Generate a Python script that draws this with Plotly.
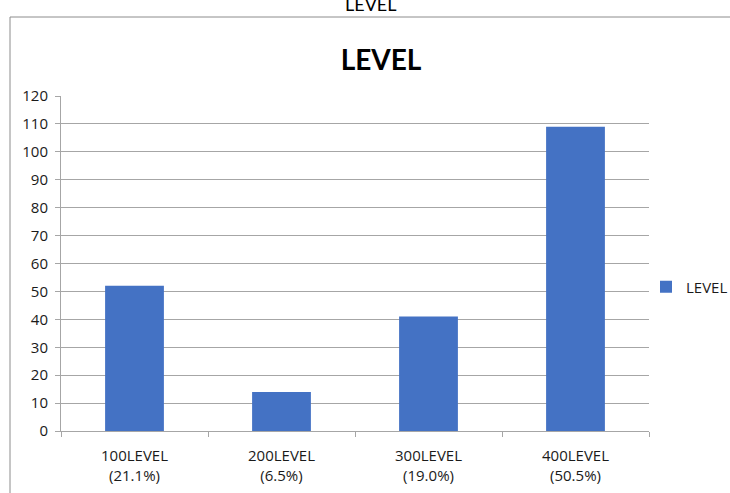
import plotly.graph_objects as go

# Student counts per level
categories = ["100LEVEL", "200LEVEL", "300LEVEL", "400LEVEL"]
shares = ["(21.1%)", "(6.5%)", "(19.0%)", "(50.5%)"]
counts = [52, 14, 41, 109]
y_ticks = list(range(0, 121, 10))

tick_text = [f"{c}<br>{s}" for c, s in zip(categories, shares)]

W, H = 730, 493
L, R, T, B = 61, 81, 96, 62
pw, ph = W - L - R, H - T - B


def px_x(x):
    return (x - L) / pw


def px_y(y):
    return (H - B - y) / ph


fig = go.Figure(
    go.Bar(
        x=categories,
        y=counts,
        name="LEVEL",
        marker=dict(color="#4472C4", line=dict(width=0)),
        showlegend=True,
    )
)

fig.update_layout(
    width=W,
    height=H,
    margin=dict(l=L, r=R, t=T, b=B, autoexpand=False),
    paper_bgcolor="white",
    plot_bgcolor="white",
    bargap=0.6,
    font=dict(family="Open Sans, DejaVu Sans, sans-serif", size=14, color="#1a1a1a"),
    title=dict(
        text="<b>LEVEL</b>",
        x=px_x(381),
        xref="paper",
        xanchor="center",
        y=1 - 60 / H,
        yanchor="middle",
        font=dict(family="Lato, Liberation Sans, sans-serif", size=28, color="#000"),
    ),
    legend=dict(
        x=px_x(733),
        y=px_y(287),
        xanchor="right",
        yanchor="middle",
        bgcolor="rgba(0,0,0,0)",
        font=dict(size=15, color="#1a1a1a"),
        itemwidth=30,
    ),
    xaxis=dict(
        tickmode="array",
        tickvals=categories,
        ticktext=tick_text,
        showline=True,
        linecolor="#a6a6a6",
        linewidth=1,
        ticks="outside",
        tickson="boundaries",
        ticklen=5,
        tickcolor="#a6a6a6",
        showgrid=False,
        ticklabelstandoff=11,
        tickfont=dict(size=15, color="#1a1a1a"),
    ),
    yaxis=dict(
        range=[0, 120],
        tickmode="array",
        tickvals=y_ticks,
        showline=True,
        linecolor="#a6a6a6",
        linewidth=1,
        ticks="outside",
        ticklen=5,
        tickcolor="#a6a6a6",
        showgrid=True,
        gridcolor="#a6a6a6",
        gridwidth=1,
        zeroline=False,
        ticklabelstandoff=4,
        tickfont=dict(size=15, color="#1a1a1a"),
    ),
    shapes=[
        dict(
            type="rect",
            xref="paper",
            yref="paper",
            x0=px_x(10),
            x1=px_x(745),
            y0=px_y(505),
            y1=px_y(17),
            line=dict(color="#8c8c8c", width=1),
            fillcolor="rgba(0,0,0,0)",
            layer="below",
        )
    ],
    annotations=[
        dict(
            text="LEVEL",
            xref="paper",
            yref="paper",
            x=px_x(370),
            y=px_y(17.5),
            xanchor="center",
            yanchor="bottom",
            showarrow=False,
            font=dict(family="Lato, sans-serif", size=18, color="#000"),
        )
    ],
)

fig.write_html("out.html")
